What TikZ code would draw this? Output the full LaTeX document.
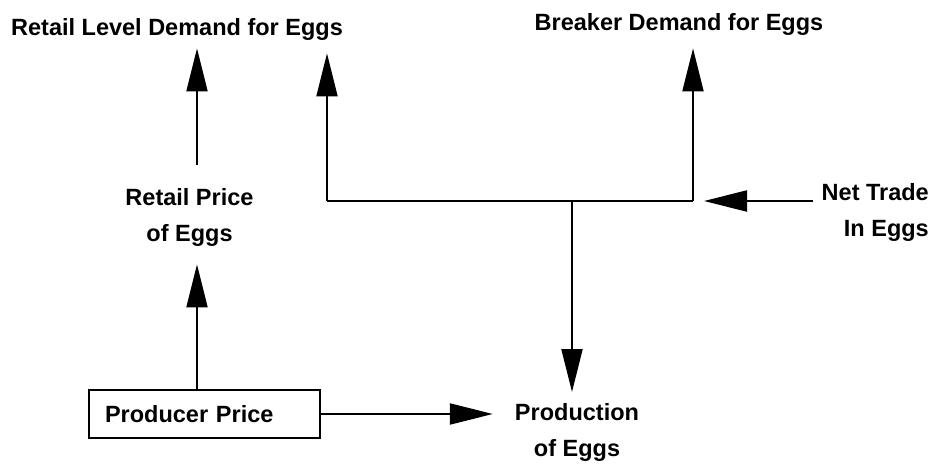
\documentclass[tikz,border=0pt]{standalone}
\usepackage{fontspec}
\setmainfont{Liberation Sans}
\usetikzlibrary{arrows.meta,calc}
\begin{document}
\begin{tikzpicture}[x=1pt,y=1pt,
  lbl/.style={font=\fontsize{23.5}{36}\selectfont\bfseries, inner sep=0pt, align=center},
  line/.style={line width=2pt},
  arr/.style={line width=2pt, -{Triangle[length=43pt,width=21pt]}}]
\useasboundingbox (0,0) rectangle (937,-470);
\node[lbl, anchor=north] (rld) at (177,-18) {Retail Level Demand for Eggs};
\node[lbl, anchor=north] (bde) at (679,-13) {Breaker Demand for Eggs};
\node[lbl, anchor=north] (rpe) at (189.5,-188) {Retail Price\\of Eggs};
\node[lbl, anchor=north east, align=right] (nte) at (929,-183) {Net Trade\\In Eggs};
\node[lbl, anchor=north] (prod) at (577,-403) {Production\\of Eggs};
\node[lbl, draw, line width=2pt, minimum width=231pt, minimum height=48pt,
      text width=199pt, align=left, inner xsep=16pt] (pp) at (204.5,-414) {Producer Price};
\coordinate (ax) at (197,0);
\coordinate (bl) at (327,-201);
\coordinate (bm) at (572,-201);
\coordinate (br) at (693,-201);
\draw[arr, shorten >=18pt] (pp.north -| ax) -- (rpe.south -| ax);
\draw[arr, shorten >=8pt] ($(rpe.north -| ax)+(0,23)$) -- (rld.south -| ax);
\draw[line] (bl) -- (br);
\draw[arr, shorten >=13pt] (bl) -- (bl |- rld.south);
\draw[arr, shorten >=13pt] (br) -- (br |- bde.south);
\draw[arr, shorten >=11pt] (bm) -- (bm |- prod.north);
\draw[arr, shorten <=9pt, shorten >=11pt] (nte.west |- br) -- (br);
\draw[arr, shorten >=22pt] (pp.east) -- (pp.east -| prod.west);
\end{tikzpicture}
\end{document}
